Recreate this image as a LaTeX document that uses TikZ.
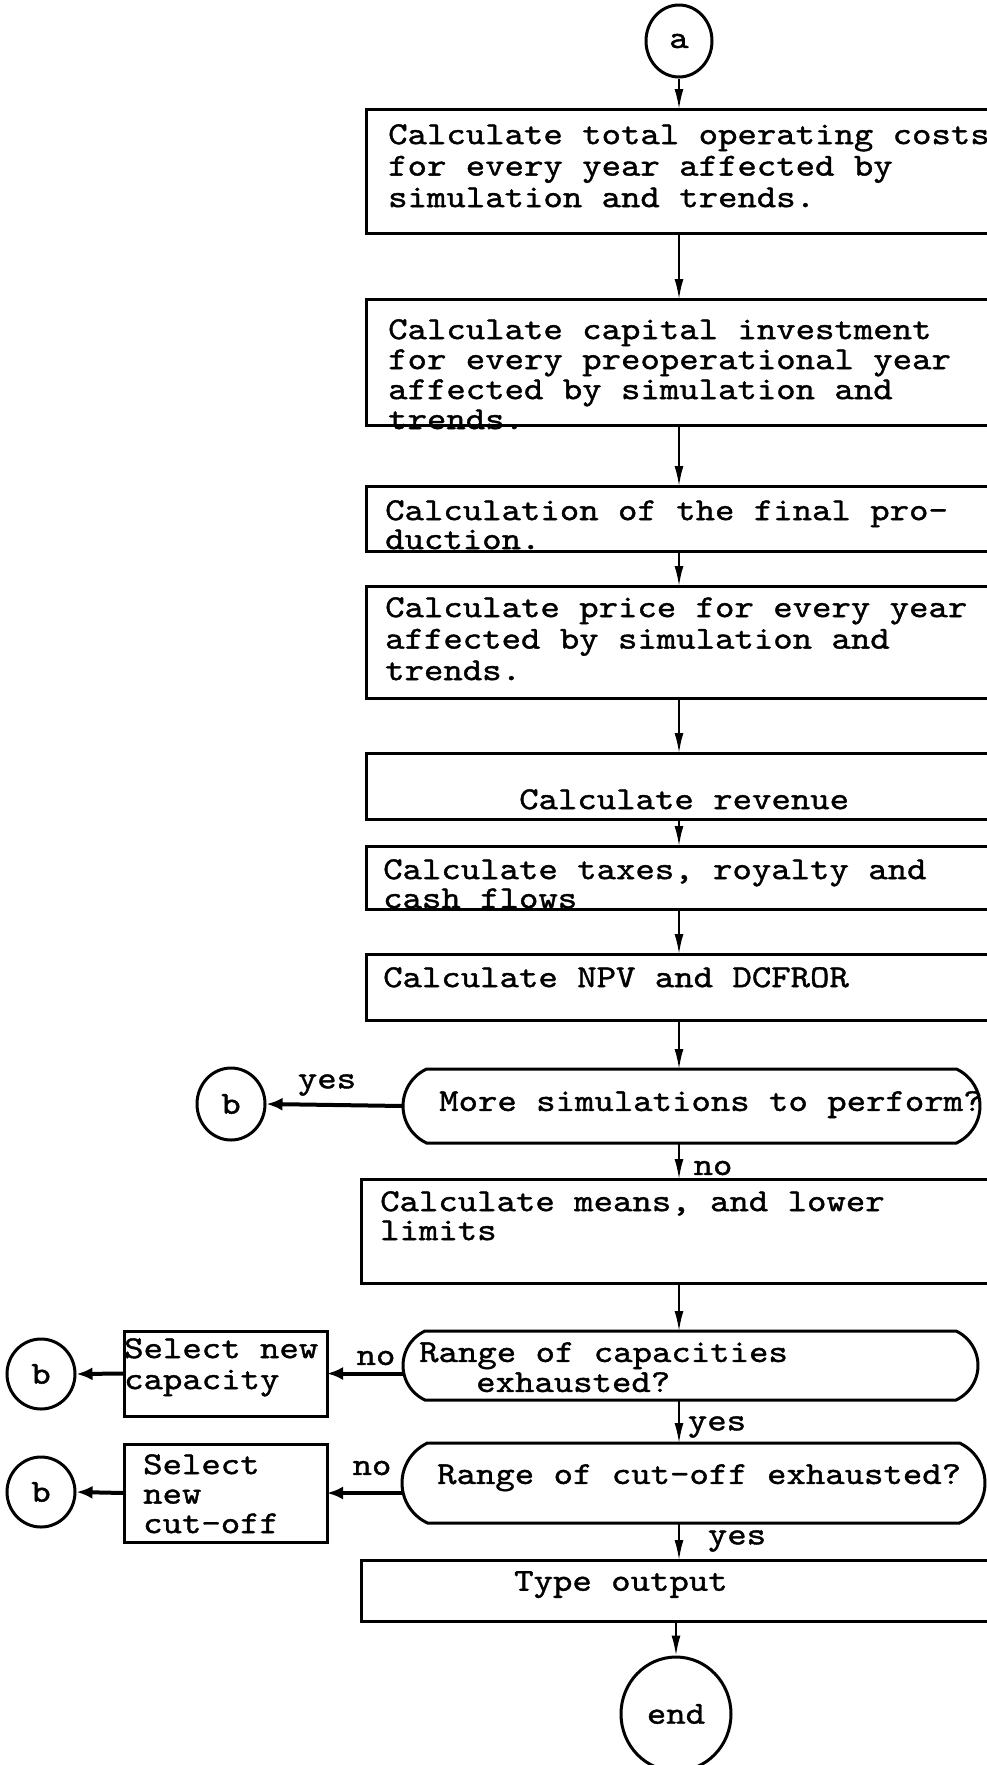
\documentclass[tikz,border=0pt]{standalone}
\usepackage{fontspec}
\newfontfamily\tw{lmmono10-regular.otf}[FakeStretch=1.155,FakeBold=1.2]
\usetikzlibrary{arrows.meta,shapes.geometric,shapes.misc}
\newcommand{\twf}[1]{\tw\fontsize{32}{#1}\selectfont}
\begin{document}
\begin{tikzpicture}[x=1pt,y=-1pt,
  box/.style={draw,line width=3pt,anchor=north west,inner sep=0,outer sep=0,minimum width=660pt},
  txt/.style={anchor=north west,inner sep=0,align=left,font=\twf{31.5}},
  lbl/.style={inner sep=0,font=\twf{31.5}},
  conn/.style={draw,ellipse,line width=3pt,inner sep=0,font=\twf{31.5}},
  dec/.style={draw,rounded rectangle,rounded rectangle arc length=130,line width=3pt,anchor=west,inner sep=0,outer sep=0},
  arr/.style={line width=1.8pt,-{Latex[length=20pt,width=9pt]}},
  barr/.style={line width=4pt,-{Latex[length=16pt,width=13pt]}}
]
\path[use as bounding box] (0,0) rectangle (987,1765);
\clip (0,0) rectangle (987,1765);
\fill[white] (0,0) rectangle (987,1765);

% main column
\node[conn,minimum width=66pt,minimum height=72pt] (a) at (679,41) {a};

\node[box,minimum height=124pt] (p1) at (366,109) {};
\node[txt] (t1) at (388,124) {Calculate total operating costs\\for every year affected by\\simulation and trends.};

\node[box,minimum height=126pt] (p2) at (366,299) {};
\node[txt,font=\twf{30}] (t2) at (388,319) {Calculate capital investment\\for every preoperational year\\affected by simulation and\\trends.};

\node[box,minimum height=65pt] (p3) at (366,486) {};
\node[txt,font=\twf{29}] (t3) at (385,500) {Calculation of the final pro-\\duction.};

\node[box,minimum height=112pt] (p4) at (366,586) {};
\node[txt] (t4) at (385,597) {Calculate price for every year\\affected by simulation and\\trends.};

\node[box,minimum height=66pt] (p5) at (366,753) {};
\node[txt] (t5) at (519,789) {Calculate revenue};

\node[box,minimum height=63pt] (p6) at (366,846) {};
\node[txt,font=\twf{29}] (t6) at (383,859) {Calculate taxes, royalty and\\cash flows};

\node[box,minimum height=66pt] (p7) at (366,954) {};
\node[txt] (t7) at (383,967) {Calculate NPV and DCFROR};

\node[dec,minimum width=577pt,minimum height=74pt] (d1) at (403,1106) {};
\node[txt] (t8) at (439,1091) {More simulations to perform?};
\node[conn,minimum width=68pt,minimum height=72pt] (b1) at (231,1104) {b};
\node[lbl] (yes1) at (327,1085) {yes};

\node[box,minimum height=104pt] (p8) at (361,1179) {};
\node[txt,font=\twf{29}] (t9) at (380,1191) {Calculate means, and lower\\limits};
\node[lbl] (no1) at (713,1168) {no};

\node[dec,minimum width=575pt,minimum height=69pt] (d2) at (403,1365.5) {};
\node[txt,font=\twf{30}] (t10) at (419,1342) {Range of capacities\\\hspace*{57pt}exhausted?};
\node[box,minimum width=203pt,minimum height=85pt] (sc) at (124,1331) {};
\node[txt,font=\twf{31}] (tsc) at (124,1338) {Select new\\capacity};
\node[lbl] (no2) at (376,1358) {no};
\node[conn,minimum width=68pt,minimum height=70pt] (b2) at (41,1374) {b};
\node[lbl] (yes2) at (717,1427) {yes};

\node[dec,minimum width=583pt,minimum height=80pt] (d3) at (402,1483) {};
\node[txt] (t11) at (437,1464) {Range of cut-off exhausted?};
\node[box,minimum width=203pt,minimum height=98pt] (co) at (124,1444) {};
\node[txt,font=\twf{29.5}] (tco) at (143,1454) {Select\\new\\cut-off};
\node[lbl] (no3) at (372,1468) {no};
\node[conn,minimum width=68pt,minimum height=70pt] (b3) at (41,1492) {b};
\node[lbl] (yes3) at (737,1541) {yes};

\node[box,minimum height=61pt] (p9) at (361,1560) {};
\node[txt] (t12) at (514,1571) {Type output};

\node[conn,minimum width=110pt,minimum height=114pt] (end) at (676,1714) {end};

% connectors
\draw[arr] (a.south) -- (a.south |- p1.north);
\draw[arr] (p1.south -| a) -- (p2.north -| a);
\draw[arr] (p2.south -| a) -- (p3.north -| a);
\draw[arr] (p3.south -| a) -- (p4.north -| a);
\draw[arr] (p4.south -| a) -- (p5.north -| a);
\draw[arr] (p5.south -| a) -- (p6.north -| a);
\draw[arr] (p6.south -| a) -- (p7.north -| a);
\draw[arr] (p7.south -| a) -- (d1.north -| a);
\draw[arr] (d1.south -| a) -- (p8.north -| a);
\draw[arr] (p8.south -| a) -- (d2.north -| a);
\draw[arr] (d2.south -| a) -- (d3.north -| a);
\draw[arr] (d3.south -| a) -- (p9.north -| a);
\draw[arr] (p9.south -| end) -- (end.north);

\draw[barr] (d1.west) -- (b1.east);
\draw[barr] (d2.west |- sc.east) -- (sc.east);
\draw[barr] (sc.west) -- (b2.east);
\draw[barr] (d3.west |- co.east) -- (co.east);
\draw[barr] (co.west) -- (b3.east);
\end{tikzpicture}
\end{document}
